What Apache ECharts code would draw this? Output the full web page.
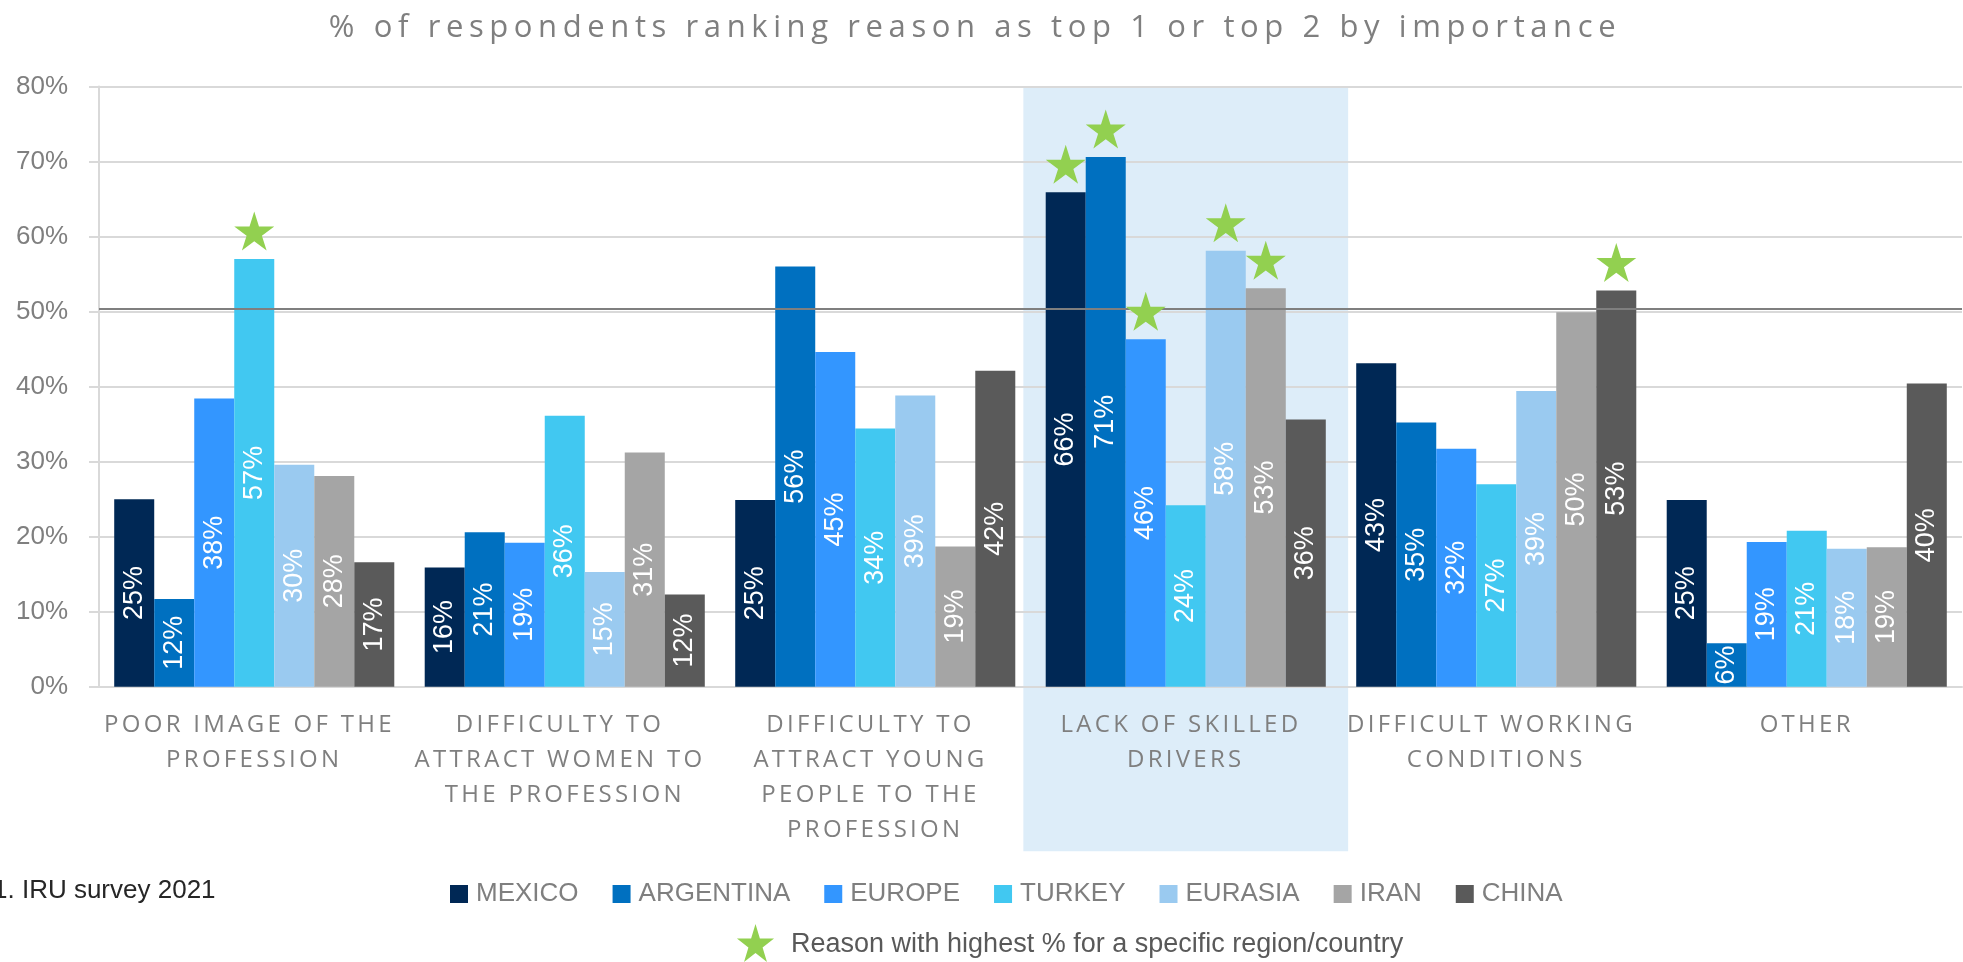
<!DOCTYPE html>
<html>
<head>
<meta charset="utf-8">
<script src="https://cdn.jsdelivr.net/npm/echarts@6/dist/echarts.min.js"></script>
<style>
html,body{margin:0;padding:0;background:#fff;}
#chart{width:1963px;height:962px;}
</style>
</head>
<body>
<div id="chart"></div>
<script>
// ---- data ----
const titleText = '% of respondents ranking reason as top 1 or top 2 by importance';
const categories = [
  'POOR IMAGE OF THE PROFESSION',
  'DIFFICULTY TO ATTRACT WOMEN TO THE PROFESSION',
  'DIFFICULTY TO ATTRACT YOUNG PEOPLE TO THE PROFESSION',
  'LACK OF SKILLED DRIVERS',
  'DIFFICULT WORKING CONDITIONS',
  'OTHER'
];
const seriesNames = ['MEXICO', 'ARGENTINA', 'EUROPE', 'TURKEY', 'EURASIA', 'IRAN', 'CHINA'];
const mexico    = [25.0, 15.9, 24.9, 65.9, 43.1, 24.9];
const argentina = [11.7, 20.6, 56.0, 70.6, 35.2, 5.8];
const europe    = [38.4, 19.2, 44.6, 46.3, 31.7, 19.3];
const turkey    = [57.0, 36.1, 34.4, 24.2, 27.0, 20.8];
const eurasia   = [29.6, 15.3, 38.8, 58.1, 39.4, 18.4];
const iran      = [28.1, 31.2, 18.7, 53.1, 49.9, 18.6];
const china     = [16.6, 12.3, 42.1, 35.6, 52.8, 40.4];
const seriesValues = [mexico, argentina, europe, turkey, eurasia, iran, china];
// [series name, category index] of the "highest reason" stars
const highestMarks = [
  ['TURKEY', 0], ['MEXICO', 3], ['ARGENTINA', 3], ['EUROPE', 3],
  ['EURASIA', 3], ['IRAN', 3], ['CHINA', 4]
];
const referenceValue = 50.4;
const highlightCategory = 'LACK OF SKILLED DRIVERS';
const yTicks = [0, 10, 20, 30, 40, 50, 60, 70, 80];
const footnote = '1. IRU survey 2021';
const starLegendText = 'Reason with highest % for a specific region/country';

// ---- styles ----
const colors = ['#002855', '#0070C0', '#3396FF', '#41C8F1', '#9ACAF0', '#A5A5A5', '#5A5A5A'];
const starColor = '#92D050';
const starPts = [[50,0],[61.23,34.55],[97.55,34.55],[68.17,55.9],[79.39,90.45],[50,69.1],[20.61,90.45],[31.83,55.9],[2.45,34.55],[38.77,34.55]];
const starPath = 'path://M' + starPts.map(p => p[0] + ' ' + p[1]).join(' L') + ' Z';
const grayText = '#7f7f7f';
const TITLE_SIZE = 31, CAT_SIZE = 24;
// wide tracking used in the original for title and category labels
const tracking = {};
tracking[TITLE_SIZE] = '5.6px';
tracking[CAT_SIZE] = '3.3px';
(function () {
  const proto = CanvasRenderingContext2D.prototype;
  const orig = proto.fillText;
  proto.fillText = function (t, x, y, w) {
    const f = this.font || '';
    if (f.indexOf('Open Sans') >= 0 && 'letterSpacing' in this) {
      const m = f.match(/(\d+(?:\.\d+)?)px/);
      const sp = m && tracking[Math.round(parseFloat(m[1]))];
      if (sp) {
        this.save();
        this.letterSpacing = sp;
        this.font = f;
        if (w === undefined) orig.call(this, t, x, y); else orig.call(this, t, x, y, w);
        this.restore();
        return;
      }
    }
    return orig.apply(this, arguments);
  };
})();

const chart = echarts.init(document.getElementById('chart'), null, {renderer: 'canvas'});

const series = seriesNames.map((name, si) => {
  const marks = highestMarks.filter(m => m[0] === name).map(m => ({
    coord: [m[1], seriesValues[si][m[1]]]
  }));
  const s = {
    name: name,
    type: 'bar',
    data: seriesValues[si],
    barGap: '0%',
    barCategoryGap: '9.8%',
    itemStyle: {color: colors[si]},
    label: {
      show: true,
      position: 'inside',
      rotate: 90,
      color: '#ffffff',
      fontFamily: 'Liberation Sans',
      fontSize: 27,
      formatter: p => Math.round(p.value) + '%'
    },
    labelLayout: {hideOverlap: false}
  };
  if (marks.length) {
    s.markPoint = {
      symbol: starPath,
      symbolSize: [40, 39],
      symbolOffset: [0, -28],
      itemStyle: {color: starColor},
      label: {show: false},
      data: marks
    };
  }
  if (si === 0) {
    s.markLine = {
      silent: true,
      symbol: ['none', 'none'],
      label: {show: false},
      lineStyle: {color: '#7f7f7f', width: 2, type: 'solid'},
      data: [{yAxis: referenceValue}]
    };
  }
  return s;
});

const option = {
  animation: false,
  backgroundColor: '#ffffff',
  legend: {
    data: seriesNames,
    left: 445,
    top: 876,
    itemWidth: 18,
    itemHeight: 18,
    itemGap: 34,
    icon: 'rect',
    textStyle: {fontFamily: 'Liberation Sans', fontSize: 26, color: grayText, padding: [0, 0, 0, 3]}
  },
  grid: {left: 99, right: 1, top: 86.5, bottom: 275.3, containLabel: false},
  xAxis: {
    type: 'category',
    data: categories,
    axisLine: {show: true, lineStyle: {color: '#d9d9d9', width: 2}},
    axisTick: {show: false},
    axisLabel: {
      interval: 0,
      margin: 21,
      color: grayText,
      fontFamily: 'Open Sans',
      fontSize: CAT_SIZE,
      lineHeight: 35,
      width: 250,
      overflow: 'break',
      align: 'center'
    }
  },
  yAxis: {
    type: 'value',
    min: yTicks[0],
    max: yTicks[yTicks.length - 1],
    interval: yTicks[1] - yTicks[0],
    axisLine: {show: true, lineStyle: {color: '#d9d9d9', width: 2}},
    axisTick: {show: true, length: 10, lineStyle: {color: '#d9d9d9', width: 2}},
    splitLine: {show: true, lineStyle: {color: '#d9d9d9', width: 2}},
    axisLabel: {
      margin: 31,
      color: grayText,
      fontFamily: 'Liberation Sans',
      fontSize: 26,
      formatter: v => v + '%'
    }
  },
  series: series
};

chart.setOption(option);

// highlight band + extra legend, placed through the chart's own scales
const idx = categories.indexOf(highlightCategory);
const c0 = chart.convertToPixel({xAxisIndex: 0}, 0);
const c1 = chart.convertToPixel({xAxisIndex: 0}, 1);
const band = c1 - c0;
const xc = chart.convertToPixel({xAxisIndex: 0}, idx);
const yTop = chart.convertToPixel({yAxisIndex: 0}, yTicks[yTicks.length - 1]);
const y0 = chart.convertToPixel({yAxisIndex: 0}, 0);
const bandW = band * 1.046;
const bandBottom = y0 + (y0 - yTop) * 0.274;

const starLegendPts = starPts.map(p => [736 + p[0] * 39 / 100, 924 + p[1] * 38 / 90.45]);

chart.setOption({
  graphic: [
    {
      type: 'rect',
      z: -10,
      silent: true,
      shape: {x: xc - bandW / 2, y: yTop, width: bandW, height: bandBottom - yTop},
      style: {fill: '#DDEDF9'}
    },
    {
      type: 'text',
      x: 975,
      y: 13,
      style: {text: titleText, fill: grayText, font: TITLE_SIZE + 'px "Open Sans"', align: 'center', verticalAlign: 'top'}
    },
    {
      type: 'text',
      x: -7,
      y: 891,
      style: {text: footnote, fill: '#262626', font: '26px "Liberation Sans"', align: 'left', verticalAlign: 'middle'}
    },
    {
      type: 'polygon',
      shape: {points: starLegendPts},
      style: {fill: starColor}
    },
    {
      type: 'text',
      x: 791,
      y: 945,
      style: {text: starLegendText, fill: '#595959', font: '27px "Liberation Sans"', align: 'left', verticalAlign: 'middle'}
    }
  ]
});
</script>
</body>
</html>
